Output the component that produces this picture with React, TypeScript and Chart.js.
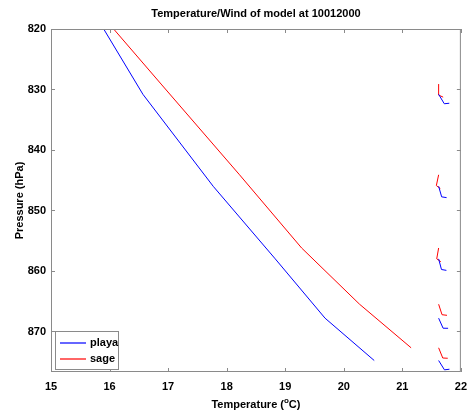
import React, { useEffect, useRef } from "react";
import { Chart, registerables } from "chart.js";

Chart.register(...registerables);

const TITLE = "Temperature/Wind of model at 10012000";
const X_TITLE_MAIN = "Temperature (";
const X_TITLE_SUP = "o";
const X_TITLE_END = "C)";
const Y_TITLE = "Pressure (hPa)";

const xTicks = [15, 16, 17, 18, 19, 20, 21, 22];
const yTicks = [820, 830, 840, 850, 860, 870];

const seriesNames = ["playa", "sage"];
const seriesColors = ["rgb(0,0,255)", "rgb(255,0,0)"];

// playa profile
const playaP = [820, 830.8, 846, 858, 867.8, 874.8];
const playaT = [15.9, 16.57, 17.77, 18.83, 19.68, 20.52];
// sage profile
const sageP = [820, 829.1, 844.1, 856.2, 865.5, 872.7];
const sageT = [16.07, 16.88, 18.22, 19.28, 20.27, 21.15];

// wind barbs (pressure level, staff direction in degrees)
const barbPPlaya = [830.8, 846, 858, 867.8, 874.8];
const barbDirPlaya = [31, 16, 15, 24, 32];
const barbPSage = [829.1, 844.1, 856.2, 865.5, 872.7];
const barbDirSage = [0, -12, -10, 18, 22];
const BARB_T = 21.62;

const FONT = "'Liberation Sans', Arial, Helvetica, sans-serif";
const FSIZE = 11;

const overlay = {
  id: "overlay",
  afterDraw(chart: any) {
    const ctx = chart.ctx;
    const a = chart.chartArea;
    const xs = chart.scales.x;
    const ys = chart.scales.y;
    ctx.save();
    // box
    ctx.strokeStyle = "#8a8a8a";
    ctx.lineWidth = 1;
    ctx.strokeRect(a.left + 0.5, a.top + 0.5, a.right - a.left - 1, a.bottom - a.top - 1);
    // inward ticks
    const tl = 4;
    ctx.beginPath();
    xTicks.forEach((v) => {
      const px = Math.round(xs.getPixelForValue(v)) + 0.5;
      ctx.moveTo(px, a.bottom);
      ctx.lineTo(px, a.bottom - tl);
      ctx.moveTo(px, a.top);
      ctx.lineTo(px, a.top + tl);
    });
    yTicks.forEach((v) => {
      const py = Math.round(ys.getPixelForValue(v)) + 0.5;
      ctx.moveTo(a.left, py);
      ctx.lineTo(a.left + tl, py);
      ctx.moveTo(a.right, py);
      ctx.lineTo(a.right - tl, py);
    });
    ctx.stroke();

    // wind barbs
    const drawBarbs = (ps: number[], dirs: number[], color: string) => {
      ctx.strokeStyle = color;
      ctx.lineWidth = 1;
      ps.forEach((p, i) => {
        const bx = xs.getPixelForValue(BARB_T);
        const by = ys.getPixelForValue(p);
        const th = (dirs[i] * Math.PI) / 180;
        const L = 11;
        const ex = bx + Math.sin(th) * L;
        const ey = by + Math.cos(th) * L;
        const staffAng = Math.atan2(ey - by, ex - bx);
        const hAng = staffAng - (65 * Math.PI) / 180;
        const H = 5;
        ctx.beginPath();
        ctx.moveTo(bx, by);
        ctx.lineTo(ex, ey);
        ctx.lineTo(ex + Math.cos(hAng) * H, ey + Math.sin(hAng) * H);
        ctx.stroke();
      });
    };
    drawBarbs(barbPSage, barbDirSage, seriesColors[1]);
    drawBarbs(barbPPlaya, barbDirPlaya, seriesColors[0]);

    const fMain = `bold ${FSIZE}px ${FONT}`;
    const fSup = `bold 8px ${FONT}`;

    // legend
    const lx = a.left + 4;
    const ly = a.bottom - 41;
    ctx.fillStyle = "#ffffff";
    ctx.fillRect(lx, ly, 63, 38);
    ctx.strokeStyle = "#8a8a8a";
    ctx.lineWidth = 1;
    ctx.strokeRect(lx + 0.5, ly + 0.5, 63, 38);
    ctx.font = fMain;
    ctx.textBaseline = "middle";
    ctx.textAlign = "left";
    for (let i = 0; i < seriesNames.length; i++) {
      const yy = Math.round(ly + 12 + i * 16);
      ctx.beginPath();
      ctx.strokeStyle = seriesColors[i];
      ctx.lineWidth = 1.2;
      ctx.moveTo(lx + 5, yy);
      ctx.lineTo(lx + 31, yy);
      ctx.stroke();
      ctx.fillStyle = "#000";
      ctx.fillText(seriesNames[i], lx + 35, yy);
    }

    // title
    ctx.fillStyle = "#000";
    ctx.textAlign = "center";
    ctx.font = fMain;
    ctx.fillText(TITLE, (a.left + a.right) / 2, 14);

    // x title with superscript
    ctx.font = fMain;
    const w1 = ctx.measureText(X_TITLE_MAIN).width;
    const w3 = ctx.measureText(X_TITLE_END).width;
    ctx.font = fSup;
    const w2 = ctx.measureText(X_TITLE_SUP).width;
    const total = w1 + w2 + w3;
    let cx = (a.left + a.right) / 2 - total / 2;
    const ty = 405;
    ctx.textAlign = "left";
    ctx.font = fMain;
    ctx.fillText(X_TITLE_MAIN, cx, ty);
    cx += w1;
    ctx.font = fSup;
    ctx.fillText(X_TITLE_SUP, cx, ty - 4);
    cx += w2;
    ctx.font = fMain;
    ctx.fillText(X_TITLE_END, cx, ty);

    // y title
    ctx.save();
    ctx.translate(20, (a.top + a.bottom) / 2);
    ctx.rotate(-Math.PI / 2);
    ctx.textAlign = "center";
    ctx.font = fMain;
    ctx.fillText(Y_TITLE, 0, 0);
    ctx.restore();

    ctx.restore();
  },
};

export default function App() {
  const ref = useRef<HTMLCanvasElement | null>(null);
  useEffect(() => {
    document.body.style.margin = "0";
    const canvas = ref.current;
    if (!canvas) return;
    const chart = new Chart(canvas, {
      type: "scatter",
      data: {
        datasets: [
          {
            label: seriesNames[0],
            data: playaT.map((t, i) => ({ x: t, y: playaP[i] })),
            borderColor: seriesColors[0],
            backgroundColor: seriesColors[0],
            showLine: true,
            borderWidth: 1,
            pointRadius: 0,
            tension: 0,
          },
          {
            label: seriesNames[1],
            data: sageT.map((t, i) => ({ x: t, y: sageP[i] })),
            borderColor: seriesColors[1],
            backgroundColor: seriesColors[1],
            showLine: true,
            borderWidth: 1,
            pointRadius: 0,
            tension: 0,
          },
        ],
      },
      options: {
        responsive: false,
        animation: false,
        devicePixelRatio: 1,
        layout: { padding: { top: 29, right: 4, left: 0, bottom: 0 } },
        plugins: {
          legend: { display: false },
          title: { display: false },
          tooltip: { enabled: false },
        },
        scales: {
          x: {
            type: "linear",
            min: 15,
            max: 22,
            grid: { display: false, drawTicks: false },
            border: { display: false },
            afterBuildTicks: (s: any) => {
              s.ticks = xTicks.map((value) => ({ value }));
            },
            afterFit: (s: any) => {
              s.height = 43;
            },
            ticks: {
              color: "#000",
              font: { family: FONT, size: FSIZE, weight: "bold" },
              padding: 8,
              maxRotation: 0,
              autoSkip: false,
            },
          },
          y: {
            type: "linear",
            reverse: true,
            min: 820,
            max: 876.7,
            grid: { display: false, drawTicks: false },
            border: { display: false },
            afterBuildTicks: (s: any) => {
              s.ticks = yTicks.map((value) => ({ value }));
            },
            afterFit: (s: any) => {
              s.width = 51;
            },
            ticks: {
              color: "#000",
              font: { family: FONT, size: FSIZE, weight: "bold" },
              padding: 5,
              autoSkip: false,
            },
          },
        },
      },
      plugins: [overlay],
    });
    return () => chart.destroy();
  }, []);
  return (
    <canvas
      ref={ref}
      width={475}
      height={415}
      style={{ display: "block", width: 475, height: 415 }}
    />
  );
}
